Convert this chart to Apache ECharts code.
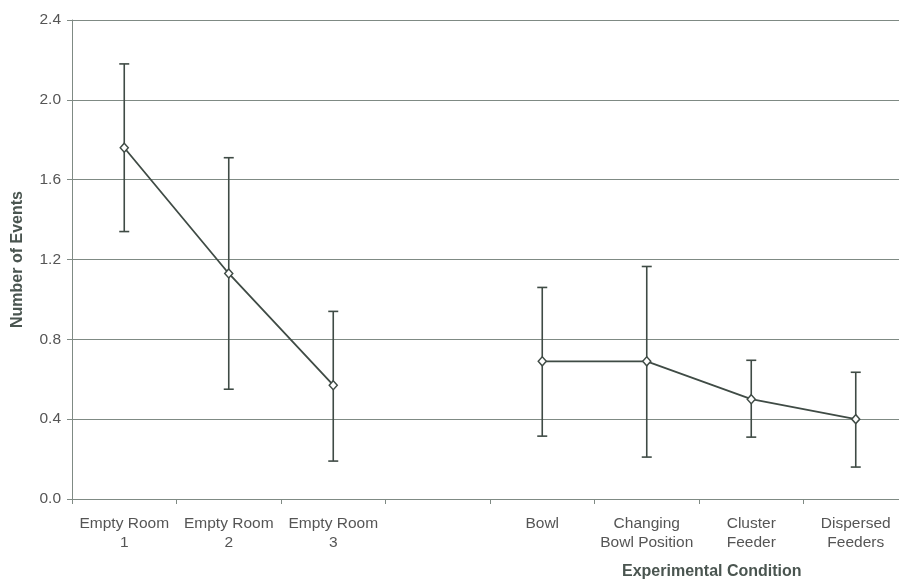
<!DOCTYPE html>
<html lang="en">
<head>
    <meta charset="UTF-8">
    <title>Number of Events</title>
    <script src="https://cdn.jsdelivr.net/npm/echarts@6/dist/echarts.min.js"></script>
    <style>
        html, body { margin: 0; padding: 0; background: #fff; }
    </style>
</head>
<body>
<div id="main" style="width: 899px;height:584px;"></div>
<script type="text/javascript">
    var categories = ['Empty Room\n1', 'Empty Room\n2', 'Empty Room\n3', '', 'Bowl',
        'Changing\nBowl Position', 'Cluster\nFeeder', 'Dispersed\nFeeders'];
    var means = [1.76, 1.13, 0.57, '-', 0.69, 0.69, 0.50, 0.40];
    var lowers = [1.34, 0.55, 0.19, '-', 0.315, 0.21, 0.31, 0.16];
    var uppers = [2.18, 1.71, 0.94, '-', 1.06, 1.165, 0.695, 0.635];
    var yTicks = [0, 0.4, 0.8, 1.2, 1.6, 2.0, 2.4];

    var ink = '#3f4b45';
    var gridColor = '#7f8a84';
    var font = 'Liberation Sans, Arial, sans-serif';

    var errData = [];
    for (var i = 0; i < categories.length; i++) {
        if (means[i] !== '-') errData.push([i, lowers[i], uppers[i]]);
    }

    var myChart = echarts.init(document.getElementById('main'));
    var option = {
        animation: false,
        backgroundColor: '#ffffff',
        // plot runs a little past the right edge of the picture, as in the original
        grid: { left: 72, right: -9, top: 20, bottom: 85, outerBoundsMode: 'none', containLabel: false },
        xAxis: {
            type: 'category',
            data: categories,
            boundaryGap: true,
            axisLine: { lineStyle: { color: gridColor, width: 1 } },
            axisTick: { show: true, interval: 0, length: 5, lineStyle: { color: gridColor } },
            axisLabel: {
                interval: 0,
                color: '#555',
                fontFamily: font,
                fontSize: 15.5,
                lineHeight: 19,
                margin: 15
            }
        },
        yAxis: {
            type: 'value',
            min: yTicks[0],
            max: yTicks[yTicks.length - 1],
            interval: 0.4,
            name: 'Number of Events',
            nameLocation: 'middle',
            nameGap: 46,
            nameTextStyle: {
                color: '#4a5550',
                fontFamily: font,
                fontSize: 16,
                fontWeight: 'bold'
            },
            axisLine: { show: true, lineStyle: { color: gridColor, width: 1 } },
            axisTick: { show: true, length: 5, lineStyle: { color: gridColor } },
            axisLabel: {
                color: '#555',
                fontFamily: font,
                fontSize: 15.5,
                margin: 11,
                formatter: function (v) { return v.toFixed(1); }
            },
            splitLine: { show: true, lineStyle: { color: gridColor, width: 1 } }
        },
        graphic: [{
            type: 'text',
            left: 622,
            top: 564,
            style: {
                text: 'Experimental Condition',
                fill: '#4a5550',
                font: 'bold 16px "Liberation Sans", Arial, sans-serif'
            }
        }],
        series: [{
            type: 'custom',
            z: 3,
            data: errData,
            renderItem: function (params, api) {
                var x = api.coord([api.value(0), api.value(1)])[0];
                var lo = api.coord([api.value(0), api.value(1)])[1];
                var hi = api.coord([api.value(0), api.value(2)])[1];
                var w = 5;
                var style = { stroke: ink, lineWidth: 1.6 };
                return {
                    type: 'group',
                    children: [
                        { type: 'line', shape: { x1: x, y1: lo, x2: x, y2: hi }, style: style },
                        { type: 'line', shape: { x1: x - w, y1: lo, x2: x + w, y2: lo }, style: style },
                        { type: 'line', shape: { x1: x - w, y1: hi, x2: x + w, y2: hi }, style: style }
                    ]
                };
            }
        }, {
            type: 'line',
            z: 4,
            data: means,
            connectNulls: false,
            symbol: 'diamond',
            symbolSize: [8, 9],
            lineStyle: { color: ink, width: 1.8 },
            itemStyle: { color: '#ffffff', borderColor: ink, borderWidth: 1.5 }
        }]
    };
    myChart.setOption(option);
</script>
</body>
</html>
